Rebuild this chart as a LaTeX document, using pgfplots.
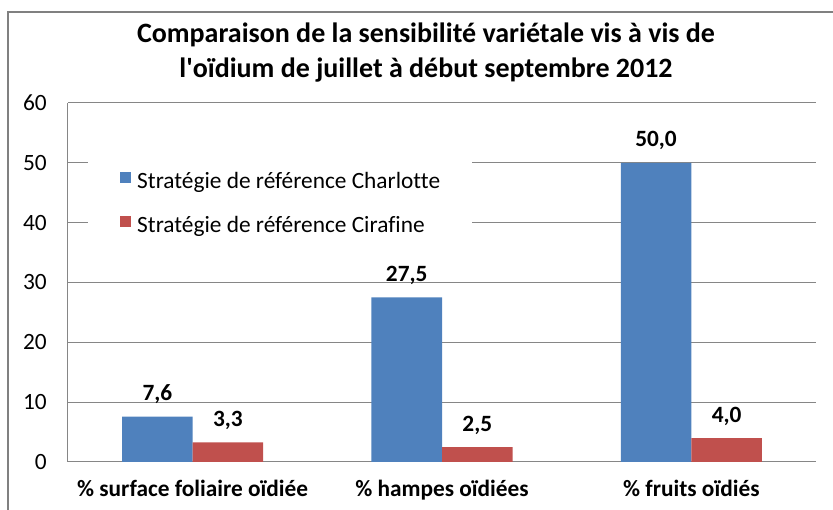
\documentclass[border=0pt]{standalone}
\usepackage{pgfplots}
\pgfplotsset{compat=1.18}
\usepackage{fontspec}
\setmainfont{Carlito}[Ligatures={NoCommon}]
\definecolor{cblue}{HTML}{4F81BD}
\definecolor{cred}{HTML}{C0504D}
\definecolor{cgrid}{HTML}{868686}
\definecolor{cframe}{HTML}{808080}
\newcommand{\lblfont}{\fontsize{17.5}{21}\selectfont}

\begin{document}
\begin{tikzpicture}[x=0.75pt,y=0.75pt]
\useasboundingbox (0,0) rectangle (833,510);
\begin{scope}
  \clip (0,0) rectangle (833,510);
  \draw[cframe, line width=1.1pt] (8,-20) -- (8,498) -- (860,498);
\end{scope}
% title, two lines (pixel coords, y up)
\node[font=\bfseries\fontsize{21}{25}\selectfont, anchor=base] at (426,467) {Comparaison de la sensibilité variétale vis à vis de};
\node[font=\bfseries\fontsize{21}{25}\selectfont, anchor=base] at (426,432) {l\textquotesingle oïdium de juillet à début septembre 2012};

\begin{axis}[
  at={(51pt,36pt)}, anchor=south west,
  scale only axis, width=561pt, height=269.25pt,
  xmin=-0.5, xmax=2.5, ymin=0, ymax=60,
  ybar, bar width=0.283,
  xtick={0,1,2},
  xticklabels={\% surface foliaire oïdiée, \% hampes oïdiées, \% fruits oïdiés},
  xticklabel style={font=\bfseries\lblfont, anchor=base, inner sep=0pt, yshift=-26.25pt},
  ytick={0,10,...,60},
  yticklabel style={font=\lblfont, anchor=east, inner sep=0pt, xshift=-15.75pt},
  /pgf/number format/assume math mode=true,
  major tick length=0pt,
  axis x line*=bottom, axis y line*=left,
  axis line style={cgrid, line width=0.75pt, -},
  ymajorgrids, grid style={cgrid, line width=0.75pt},
  nodes near coords={\pgfmathprintnumber[fixed,fixed zerofill,precision=1,use comma,assume math mode=true]{\pgfplotspointmeta}},
  every node near coord/.append style={font=\bfseries\lblfont, anchor=base, inner sep=0pt, yshift=12pt, black},
  legend image code/.code={\fill[#1] (0pt,0pt) rectangle (8.25pt,8.25pt);},
  legend cell align=left,
  legend style={at={(0.0267,0.717)}, anchor=west, draw=none, fill=white,
    inner xsep=24pt, inner ysep=8pt, font=\lblfont, column sep=4.5pt, row sep=16.8pt,
    nodes={inner sep=0pt, text height=12pt, text depth=4pt}},
]
\addplot[fill=cblue, draw=none, bar shift=-0.1415] coordinates {(0,7.6) (1,27.5) (2,50.0)};
\addlegendentry{Stratégie de référence Charlotte}
\addplot[fill=cred, draw=none, bar shift=0.1415] coordinates {(0,3.3) (1,2.5) (2,4.0)};
\addlegendentry{Stratégie de référence Cirafine}
\end{axis}
\end{tikzpicture}
\end{document}
